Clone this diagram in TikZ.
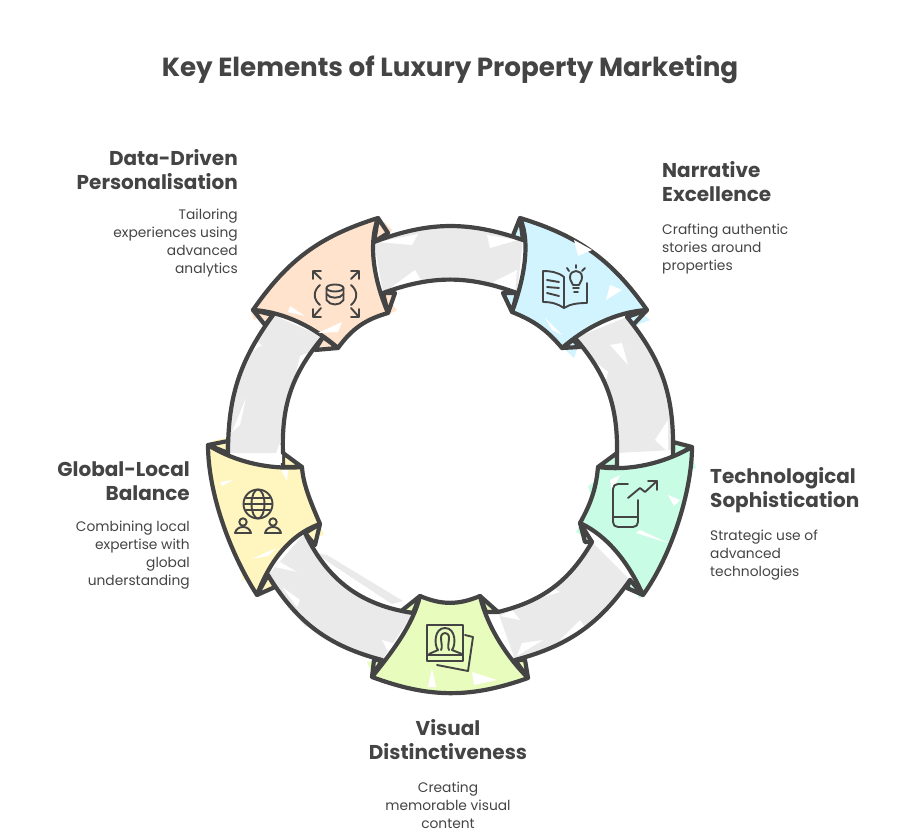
\documentclass[tikz,border=0pt]{standalone}
\usepackage{fontspec}
\setmainfont{Poppins}
\usepackage{tikz}

\definecolor{ink}{HTML}{444444}
\definecolor{peach}{HTML}{FFE3CC}
\definecolor{sky}{HTML}{D2F4FF}
\definecolor{butter}{HTML}{FFF6BF}
\definecolor{lime}{HTML}{E8FCBE}
\definecolor{mint}{HTML}{C8FCE5}
\definecolor{band}{HTML}{EAEAEA}

\tikzset{
	outline/.style={color=ink,line width=4.2pt,line join=round,line cap=round},
	glyph/.style={color=ink,line width=1.9pt,line join=round,line cap=round},
	heading/.style={inner sep=0pt,text=ink,font=\fontsize{20}{24}\selectfont\bfseries},
	blurb/.style={inner sep=0pt,text=ink,font=\fontsize{13.8}{18}\selectfont}
}

\begin{document}
\begin{tikzpicture}[x=1pt,y=-1pt]
	\useasboundingbox (0,0) rectangle (900,834);

	% colour that runs over the lines
	\fill[peach] (384,222) -- (392,230) -- (386,240) -- cycle;
	\fill[peach] (388,300) -- (397,310) -- (386,316) -- cycle;
	\fill[peach] (250,308) -- (254,320) -- (262,316) -- cycle;
	\fill[sky] (640,312) -- (650,320) -- (634,326) -- cycle;
	\fill[sky] (560,345) -- (574,358) -- (578,346) -- cycle;
	\fill[butter] (318,524) -- (324,534) -- (314,540) -- cycle;
	\fill[butter] (212,441) -- (226,438) -- (222,446) -- cycle;
	\fill[butter] (240,568) -- (243,581) -- (250,578) -- cycle;
	\fill[lime] (367,662) -- (374,678) -- (380,660) -- cycle;
	\fill[mint] (690,450) -- (696,468) -- (686,472) -- cycle;
	\fill[mint] (576,532) -- (584,518) -- (590,540) -- cycle;
	\fill[mint] (632,588) -- (640,599) -- (646,590) -- cycle;
	\fill[mint] (588,486) -- (591,497) -- (597,480) -- cycle;
	\fill[band] (313,552) -- (327,555) -- (403,601) -- (392,604) -- cycle;
	\fill[band] (292,612) -- (313,628) -- (305,626) -- cycle;

	% flaps behind the bands
	\begin{scope}[outline]
		\draw[fill=peach] (378,218) -- (388,233) -- (374,242) -- cycle;
		\draw[fill=peach] (388,313) -- (395,293) -- (383,293) -- cycle;
		\draw[fill=peach] (253,310) -- (265,325) -- (273,315) -- cycle;
		\draw[fill=peach] (338,348) -- (315,350) -- (323,337) -- cycle;
		\draw[fill=sky] (520,218) -- (512,238) -- (523,240) -- cycle;
		\draw[fill=sky] (512,312) -- (503,293) -- (517,293) -- cycle;
		\draw[fill=sky] (647,310) -- (633,325) -- (627,317) -- cycle;
		\draw[fill=sky] (562,348) -- (580,347) -- (573,340) -- cycle;
		\draw[fill=butter] (208,445) -- (228,441) -- (228,453) -- cycle;
		\draw[fill=butter] (302,467) -- (283,453) -- (283,467) -- cycle;
		\draw[fill=butter] (320,524) -- (315,545) -- (305,533) -- cycle;
		\draw[fill=butter] (257,595) -- (275,587) -- (268,575) -- cycle;
		\draw[fill=lime] (420,596) -- (400,612) -- (413,613) -- cycle;
		\draw[fill=lime] (480,596) -- (498,612) -- (486,612) -- cycle;
		\draw[fill=lime] (528,678) -- (525,660) -- (515,660) -- cycle;
		\draw[fill=lime] (372,677) -- (374,660) -- (382,660) -- cycle;
		\draw[fill=mint] (598,467) -- (617,453) -- (617,467) -- cycle;
		\draw[fill=mint] (692,447) -- (673,442) -- (673,457) -- cycle;
		\draw[fill=mint] (580,523) -- (585,542) -- (592,542) -- cycle;
		\draw[fill=mint] (643,595) -- (627,588) -- (630,580) -- cycle;
	\end{scope}

	% grey bands
	\fill[band] (374,242) to[bend left=20] (523,240) -- (517,293) to[bend right=20] (383,293) -- cycle;
	\fill[band] (273,315) to[bend right=18] (228,453) -- (283,453) to[bend left=21] (323,337) -- cycle;
	\fill[band] (268,575) to[bend right=22] (382,660) -- (413,613) to[bend left=28] (305,533) -- cycle;
	\fill[band] (498,612) to[bend right=23] (592,542) -- (630,580) to[bend left=20] (515,660) -- cycle;
	\fill[band] (627,317) to[bend left=20] (673,450) -- (617,453) to[bend right=21] (575,338) -- cycle;

	% rough spots in the grey
	\fill[white] (378,242) -- (418,234) -- (412,245) -- cycle;
	\fill[white] (487,235) -- (518,240) -- (490,248) -- cycle;
	\fill[white] (385,292) -- (415,270) -- (422,282) -- cycle;
	\fill[white] (493,282) -- (517,270) -- (515,292) -- cycle;
	\fill[white] (282,437) -- (273,462) -- (282,463) -- cycle;
	\fill[white] (250,338) -- (262,345) -- (245,356) -- cycle;
	\fill[white] (300,356) -- (310,352) -- (296,372) -- cycle;
	\fill[white] (232,432) -- (246,398) -- (240,425) -- cycle;
	\fill[white] (280,562) -- (297,572) -- (275,567) -- cycle;
	\fill[white] (282,587) -- (300,600) -- (297,607) -- cycle;
	\fill[white] (382,640) -- (407,647) -- (387,650) -- cycle;
	\fill[white] (500,616) -- (520,620) -- (512,610) -- cycle;
	\fill[white] (517,656) -- (543,640) -- (522,643) -- cycle;
	\fill[white] (533,600) -- (560,592) -- (548,585) -- cycle;
	\fill[white] (560,640) -- (580,620) -- (585,628) -- cycle;
	\fill[white] (610,345) -- (622,343) -- (628,365) -- cycle;
	\fill[white] (655,440) -- (668,420) -- (668,452) -- cycle;
	\fill[white] (590,358) -- (608,372) -- (606,380) -- cycle;

	% outer and inner lines of the bands
	\begin{scope}[outline]
		\draw (374,242) to[bend left=20] (523,240);
		\draw (383,293) to[bend left=20] (517,293);
		\draw (273,315) to[bend right=18] (228,453);
		\draw (323,337) to[bend right=21] (283,453);
		\draw (268,575) to[bend right=22] (382,660);
		\draw (305,533) to[bend right=28] (413,613);
		\draw (498,612) to[bend right=23] (592,542);
		\draw (515,660) to[bend right=20] (630,580);
		\draw (627,317) to[bend left=20] (673,450);
		\draw (575,338) to[bend left=21] (617,453);
	\end{scope}

	% coloured blocks
	\begin{scope}[outline]
		\draw[fill=peach] (253,310) to[bend left=19] (378,218) .. controls (368,245) and (374,280) .. (388,313) to[bend right=19] (338,348) .. controls (315,328) and (285,312) .. cycle;
		\draw[fill=sky] (647,310) to[bend right=19] (520,218) .. controls (532,245) and (522,285) .. (512,312) to[bend left=14] (562,348) .. controls (585,328) and (615,312) .. cycle;
		\draw[fill=butter] (208,445) .. controls (235,462) and (270,470) .. (302,467) .. controls (303,485) and (312,505) .. (320,524) .. controls (288,535) and (268,565) .. (257,595) .. controls (228,550) and (208,490) .. cycle;
		\draw[fill=lime] (420,596) to[bend right=23] (480,596) .. controls (488,630) and (510,660) .. (528,678) to[bend left=20] (372,677) .. controls (392,652) and (413,625) .. cycle;
		\draw[fill=mint] (692,447) .. controls (670,460) and (635,472) .. (598,467) .. controls (596,490) and (590,505) .. (580,523) .. controls (612,538) and (632,570) .. (643,595) .. controls (672,555) and (692,490) .. cycle;
	\end{scope}

	% white scratches in the colour
	\begin{scope}[white]
		\fill (290,306) -- (305,316) -- (288,312) -- cycle;
		\fill (318,333) -- (342,322) -- (338,332) -- cycle;
		\fill (574,240) -- (592,250) -- (578,256) -- cycle;
		\fill (610,285) -- (622,290) -- (606,300) -- cycle;
		\fill (545,318) -- (562,335) -- (552,330) -- cycle;
		\fill (220,482) -- (233,480) -- (222,486) -- cycle;
		\fill (252,559) -- (276,548) -- (268,556) -- cycle;
		\fill (281,470) -- (288,470) -- (287,481) -- cycle;
		\fill (432,668) -- (436,687) -- (428,687) -- cycle;
		\fill (472,672) -- (497,680) -- (474,685) -- cycle;
		\fill (640,530) -- (668,543) -- (636,533) -- cycle;
		\fill (668,495) -- (680,500) -- (674,506) -- cycle;
		\fill (610,480) -- (620,475) -- (612,492) -- cycle;
	\end{scope}

	% icons
	\begin{scope}[glyph]
		% database
		\draw (335,288) ellipse (8.5 and 3.5);
		\draw (326.5,288) -- (326.5,300) .. controls (330,306) and (340,306) .. (343.5,300) -- (343.5,288);
		\draw (326.5,294) .. controls (330,299) and (340,299) .. (343.5,294);
		\draw (320,285) .. controls (313,291) and (313,299) .. (320,305);
		\draw (351,285) .. controls (358,291) and (358,299) .. (351,305);
		\foreach \tx/\ty/\hx/\hy/\sx/\sy in {321/279/313/271/1/1,351/279/359/271/-1/1,321/308/313/317/1/-1,351/308/359/317/-1/-1}
			\draw (\tx,\ty) -- (\hx,\hy) (\hx+\sx*8,\hy) -- (\hx,\hy) -- (\hx,\hy+\sy*8);
		% book and bulb
		\draw (564,277) .. controls (558,272) and (550,271) .. (543,271) -- (543,302) .. controls (552,302) and (558,304) .. (564,308) .. controls (570,304) and (578,303) .. (587,303) -- (587,283);
		\draw (564,277) -- (564,308);
		\draw (547,280) -- (559,282) (547,287) -- (559,288) (547,293) -- (559,296);
		\draw (573,285) .. controls (572,282) and (570,281) .. (570,277) .. controls (570,269) and (582,269) .. (582,277) .. controls (582,281) and (580,282) .. (579,285) -- cycle;
		\draw (573,288) -- (579,288) (574,292) -- (578,292);
		\draw (576,265) -- (576,268) (567,268) -- (569,271) (585,268) -- (582,271);
		% globe and people
		\draw (258,504) circle (14.5);
		\draw (258,504) ellipse (6.5 and 14.5);
		\draw (244,504) -- (272,504) (246,498) -- (270,498) (246,510) -- (270,510);
		\foreach \hx in {243,273}{
			\draw (\hx,522) circle (3.7);
			\draw (\hx-8,533) .. controls (\hx-7,529) and (\hx-4,527) .. (\hx,527) .. controls (\hx+4,527) and (\hx+7,529) .. (\hx+8,533) -- cycle;
		}
		% photos
		\draw (427,625) rectangle (463,661);
		\draw (427,655) -- (463,655);
		\draw (465,635) -- (473,637) -- (468,671) -- (437,665);
		\draw (429,654) -- (438,650) .. controls (434,645) and (434,628) .. (445,628) .. controls (456,628) and (456,645) .. (452,650) -- (462,654);
		\draw (441,650) .. controls (444,645) and (437,634) .. (445,633) .. controls (453,634) and (446,645) .. (449,650);
		% phone and arrow
		\draw (628,484) -- (618,484) .. controls (615,484) and (613,486) .. (613,489) -- (613,522) .. controls (613,525) and (615,527) .. (618,527) -- (633,527) .. controls (636,527) and (638,525) .. (638,522) -- (638,500);
		\draw (613,517) -- (638,517);
		\draw (628,498) -- (640,488) -- (645,492) -- (657,481);
		\draw (648,481) -- (657,481) -- (657,490);
	\end{scope}

	% title and labels
	\node[inner sep=0pt,text=ink,font=\fontsize{26.2}{28}\selectfont\bfseries] (title) at (450,70) {Key Elements of Luxury Property Marketing};

	\node[heading,align=right,anchor=north east] (dataHead) at (238,149) {Data-Driven\\Personalisation};
	\node[blurb,align=right,anchor=north east] (dataText) at (238,209) {Tailoring\\experiences using\\advanced\\analytics};
	\node[heading,align=left,anchor=north west] (storyHead) at (662,161) {Narrative\\Excellence};
	\node[blurb,align=left,anchor=north west] (storyText) at (662,224) {Crafting authentic\\stories around\\properties};
	\node[heading,align=left,anchor=north west] (techHead) at (710,467) {Technological\\Sophistication};
	\node[blurb,align=left,anchor=north west] (techText) at (710,530) {Strategic use of\\advanced\\technologies};
	\node[heading,align=right,anchor=north east] (globalHead) at (190,461) {Global-Local\\Balance};
	\node[blurb,align=right,anchor=north east] (globalText) at (190,521) {Combining local\\expertise with\\global\\understanding};
	\node[heading,align=center,anchor=north] (visualHead) at (448,719) {Visual\\Distinctiveness};
	\node[blurb,align=center,anchor=north] (visualText) at (448,782) {Creating\\memorable visual\\content};
\end{tikzpicture}
\end{document}
